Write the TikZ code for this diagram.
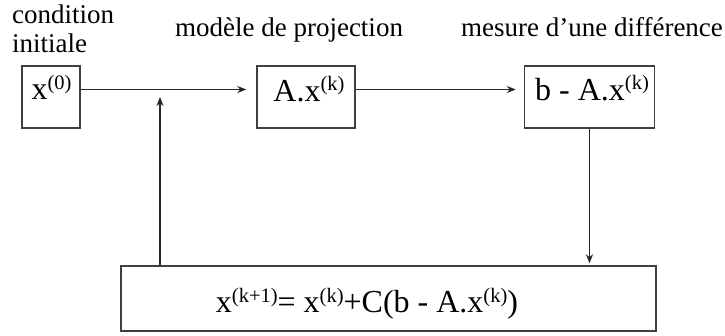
\documentclass[tikz,border=0pt]{standalone}
\usepackage{fontspec}
\setmainfont{Liberation Serif}
\usetikzlibrary{arrows.meta}
\newcommand\supk[1]{\raisebox{10.5pt}{\fontsize{20.5}{20.5}\selectfont #1}}
\begin{document}
\begin{tikzpicture}[x=1pt,y=-1pt,
  box/.style={draw=black!75, line width=1.5pt, inner sep=0pt},
  arr/.style={draw=black!85, line width=1.2pt, -{Stealth[length=9pt,width=7pt]}},
  lbl/.style={font=\fontsize{27}{27}\selectfont, inner sep=0pt},
  mth/.style={font=\fontsize{32}{32}\selectfont, inner sep=0pt, anchor=base}]
\path[use as bounding box] (0,0) rectangle (725,336);
% boxes
\node[box, minimum width=58pt, minimum height=62pt] (x0) at (51,97) {};
\node[box, minimum width=98pt, minimum height=62pt] (A) at (306,97) {};
\node[box, minimum width=130pt, minimum height=62pt] (b) at (589.5,97) {};
\node[box, minimum width=535pt, minimum height=65pt] (bot) at (388.5,298.5) {};
% box texts
\node[mth] (tx0) at (51.5,100) {x\supk{(0)}};
\node[mth] (tA) at (309,101.5) {A.x\supk{(k)}};
\node[mth] (tb) at (592,100.5) {b - A.x\supk{(k)}};
\node[mth] (tbot) at (367,313) {x\supk{(k+1)}= x\supk{(k)}+C(b - A.x\supk{(k)})};
% labels
\node[lbl, anchor=base west] (l1) at (12,24) {condition};
\node[lbl, anchor=base west] (l2) at (12,53) {initiale};
\node[lbl, anchor=base] (l3) at (289,37) {modèle de projection};
\node[lbl, anchor=base] (l4) at (592,37) {mesure d’une différence};
% connectors
\coordinate (row) at (0,89.5);
\coordinate (fb) at (160,97);
\draw[arr, shorten >=10pt] (x0.east |- row) -- (A.west |- row);
\draw[arr, shorten >=8pt] (A.east |- row) -- (b.west |- row);
\draw[arr] (fb |- bot.north) -- (fb);
\draw[arr, shorten >=2pt] (b.south) -- (b.south |- bot.north);
\end{tikzpicture}
\end{document}
